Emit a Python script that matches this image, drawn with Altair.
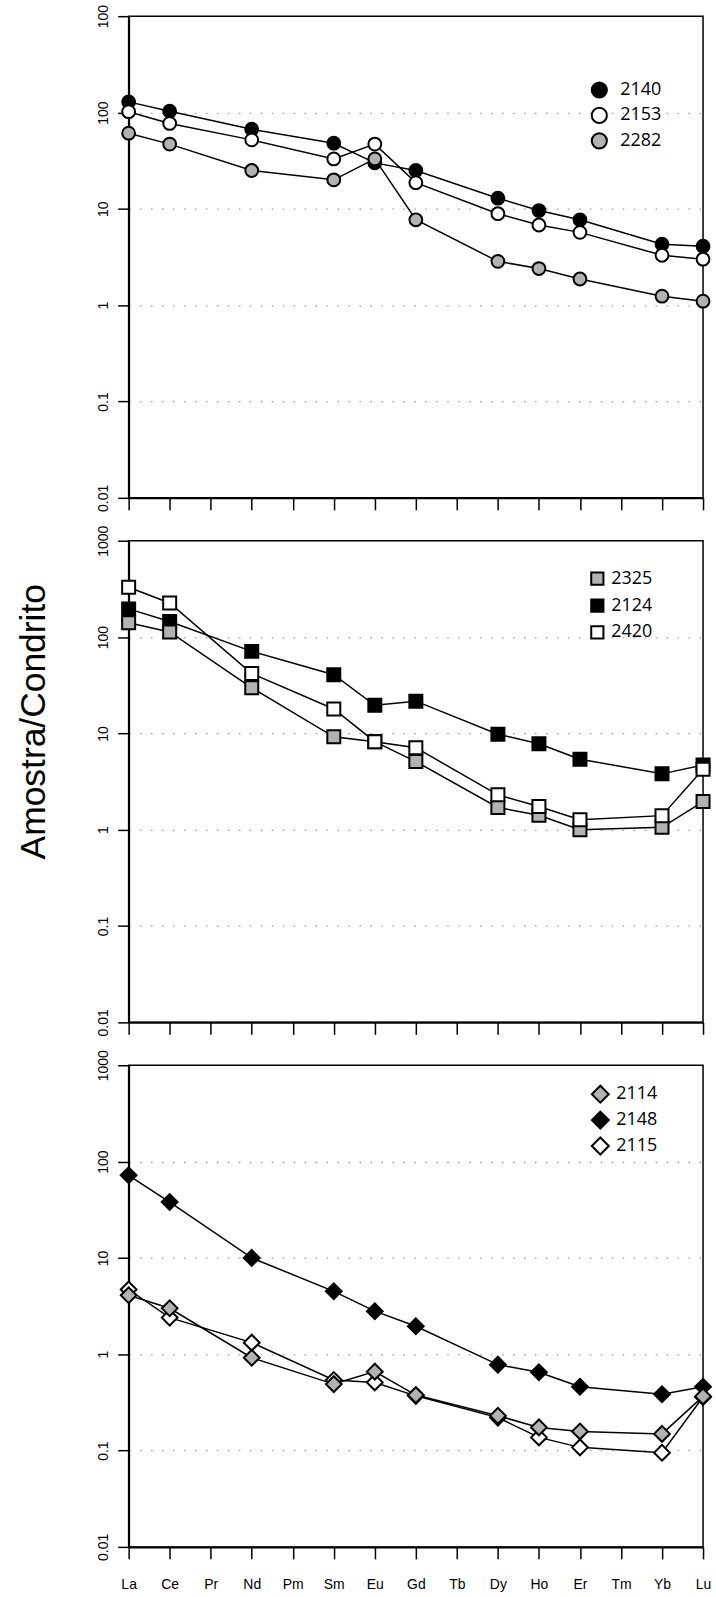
import altair as alt
import pandas as pd

ELEMENTS = ["La", "Ce", "Pr", "Nd", "Pm", "Sm", "Eu", "Gd", "Tb", "Dy", "Ho", "Er", "Tm", "Yb", "Lu"]
MEASURED = ["La", "Ce", "Nd", "Sm", "Eu", "Gd", "Dy", "Ho", "Er", "Yb", "Lu"]

# Panel 1 (circles)
TOP_LEGEND = ["2140", "2153", "2282"]
TOP_DRAW = ["2140", "2153", "2282"]
S2140 = [129, 103, 67, 48, 30, 25, 12.9, 9.6, 7.7, 4.3, 4.1]
S2153 = [102, 77, 52, 33, 47, 18.7, 8.9, 6.8, 5.7, 3.3, 3.0]
S2282 = [61, 47, 25, 20, 33, 7.7, 2.85, 2.4, 1.87, 1.24, 1.1]

# Panel 2 (squares)
MID_LEGEND = ["2325", "2124", "2420"]
MID_DRAW = ["2124", "2325", "2420"]
S2325 = [141, 113, 29.7, 9.2, 8.2, 5.1, 1.70, 1.41, 1.0, 1.06, 1.96]
S2124 = [196, 145, 71, 40.7, 19.6, 21.6, 9.8, 7.8, 5.4, 3.8, 4.7]
S2420 = [329, 226, 41.8, 17.9, 8.2, 7.1, 2.3, 1.74, 1.27, 1.4, 4.25]

# Panel 3 (diamonds)
BOT_LEGEND = ["2114", "2148", "2115"]
BOT_DRAW = ["2148", "2115", "2114"]
S2114 = [4.1, 3.0, 0.92, 0.49, 0.66, 0.377, 0.23, 0.174, 0.158, 0.149, 0.365]
S2148 = [72, 38, 10, 4.5, 2.8, 1.95, 0.78, 0.65, 0.46, 0.385, 0.46]
S2115 = [4.7, 2.4, 1.32, 0.54, 0.51, 0.37, 0.22, 0.137, 0.108, 0.095, 0.36]

Y_TICKS = [0.01, 0.1, 1, 10, 100, 1000]
GRAY = "#b2b2b2"

PLOT_W = 576
PLOT_H = 483


def build_df(series, draw):
    rows = []
    for s in draw:
        for el, v in zip(MEASURED, series[s]):
            rows.append({"element": el, "idx": ELEMENTS.index(el), "sample": s, "value": v})
    return pd.DataFrame(rows)


def panel(series, draw, legend_order, fills, size, shape, leg, show_labels,
          top_label_fix=False, title=None):
    df = build_df(series, draw)
    x_axis = alt.Axis(
        title=None, labels=show_labels, ticks=True, tickSize=12, tickWidth=1.5,
        tickColor="black", domain=True, domainColor="black", domainWidth=2,
        grid=False, labelFont="Liberation Sans", labelFontSize=14,
        labelColor="black", labelPadding=19, labelAngle=0,
    )
    label_expr = "datum.value == 1000 ? '100' : datum.label" if top_label_fix else "datum.label"
    y_kwargs = dict(
        values=Y_TICKS, format="~g", labelExpr=label_expr,
        tickSize=11, tickWidth=1.5, tickColor="black",
        domain=True, domainColor="black", domainWidth=2,
        grid=True, gridColor="#9a9a9a", gridDash=[1.5, 9.5], gridWidth=1.3,
        gridOpacity={"condition": {"test": "datum.value >= 1000 || datum.value <= 0.01", "value": 0}, "value": 1},
        labelAngle=270, labelAlign="center", labelBaseline="bottom",
        labelFont="Liberation Sans", labelFontSize=14, labelColor="black",
        labelPadding=7,
    )
    if title:
        y_kwargs.update(dict(
            title=title, titleAngle=270, titleX=-95, titleY=181,
            titleFont="Liberation Sans", titleFontSize=35.5, titleFontWeight="normal",
            titleColor="black", titleAlign="center", titleBaseline="middle",
        ))
    else:
        y_kwargs["title"] = None
    y_axis = alt.Axis(**y_kwargs)

    x = alt.X("element:O", sort=ELEMENTS,
              scale=alt.Scale(domain=ELEMENTS, type="point", padding=0), axis=x_axis)
    y = alt.Y("value:Q", scale=alt.Scale(type="log", domain=[0.01, 1000], nice=False), axis=y_axis)

    lines = alt.Chart(df).mark_line(color="black", strokeWidth=1.5).encode(
        x=x, y=y, detail="sample:N", order="idx:Q"
    )
    points = alt.Chart(df).mark_point(
        filled=True, shape=shape, opacity=1, stroke="black", strokeWidth=2, size=size
    ).encode(
        x=x, y=y,
        fill=alt.Fill("sample:N", scale=alt.Scale(domain=legend_order, range=fills),
                      legend=alt.Legend(
                          title=None, orient="none", legendX=leg["x"], legendY=leg["y"],
                          symbolType=shape, symbolSize=leg["size"],
                          symbolStrokeColor="black", symbolStrokeWidth=2, symbolOpacity=1,
                          labelFont="Open Sans", labelFontSize=18, labelColor="black",
                          labelOffset=leg["offset"], rowPadding=leg["row"], padding=0,
                      )),
    )
    return alt.layer(lines, points).properties(width=PLOT_W, height=PLOT_H)


p1 = panel({"2140": S2140, "2153": S2153, "2282": S2282}, TOP_DRAW, TOP_LEGEND,
           ["black", "white", GRAY], 165, "circle",
           {"x": 463, "y": 65, "size": 230, "offset": 12, "row": 1.5}, False,
           top_label_fix=True)
p2 = panel({"2325": S2325, "2124": S2124, "2420": S2420}, MID_DRAW, MID_LEGEND,
           [GRAY, "black", "white"], 170, "square",
           {"x": 461, "y": 29, "size": 150, "offset": 5, "row": 5}, False,
           title="Amostra/Condrito")
p3 = panel({"2114": S2114, "2148": S2148, "2115": S2115}, BOT_DRAW, BOT_LEGEND,
           [GRAY, "black", "white"], 250, "diamond",
           {"x": 463, "y": 19, "size": 290, "offset": 6, "row": 0}, True)

chart = alt.vconcat(p1, p2, p3, spacing=43, bounds="flush").resolve_scale(
    fill="independent"
).resolve_legend(fill="independent").configure_view(
    stroke="black", strokeWidth=1.5
).properties(
    padding={"left": 16, "top": 1, "right": 0, "bottom": 0},
    background="white",
)

chart.save("out.html", embed_options={"renderer": "svg", "actions": False})
